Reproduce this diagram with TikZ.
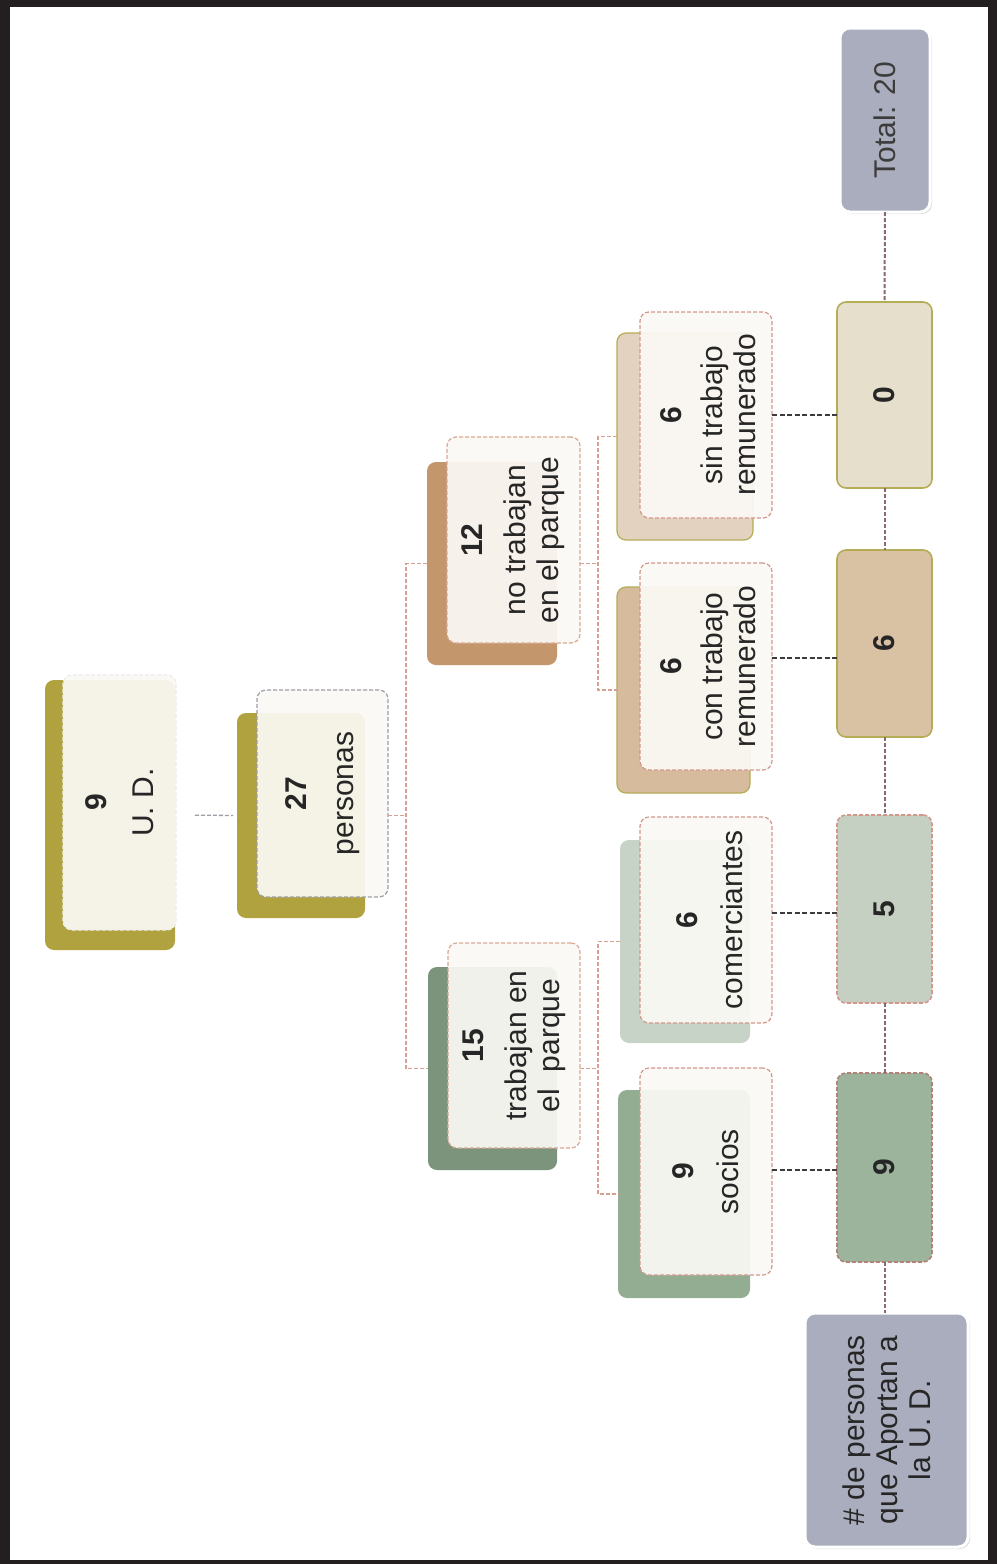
\documentclass[tikz,border=0pt]{standalone}
\usepackage{fontspec}
\setmainfont{Liberation Sans}
\usetikzlibrary{shadows}
\definecolor{cFrame}{HTML}{231F20}
\definecolor{cOliveB}{HTML}{B0A23E}
\definecolor{cBrownB}{HTML}{C4966C}
\definecolor{cDkGreenB}{HTML}{7B947B}
\definecolor{cTanLt}{HTML}{E4D2C0}
\definecolor{cTan}{HTML}{D6BC9C}
\definecolor{cGreenLt}{HTML}{C6D3C6}
\definecolor{cGreenMd}{HTML}{93AD93}
\definecolor{cResZero}{HTML}{E6DFCB}
\definecolor{cResSix}{HTML}{D9C2A3}
\definecolor{cResFive}{HTML}{C6D0C2}
\definecolor{cResNine}{HTML}{9CB39C}
\definecolor{cGrayBox}{HTML}{AAADBD}
\definecolor{cOlLine}{HTML}{B4AD56}
\definecolor{cDashPink}{HTML}{D3988C}
\definecolor{cDashOr}{HTML}{D8A893}
\definecolor{cDashGray}{HTML}{9E9EA6}
\definecolor{cConn}{HTML}{D8A090}
\definecolor{cChain}{HTML}{8A6B6B}
\definecolor{cTxt}{HTML}{262626}
\definecolor{cFront}{HTML}{FBF9F5}
\begin{document}
\begin{tikzpicture}[x=1pt,y=-1pt,
  backcard/.style={rounded corners=9pt, inner sep=0pt, outer sep=0pt},
  frontcard/.style={rounded corners=9pt, fill=cFront, fill opacity=0.92, draw opacity=1,
     draw=cDashPink, line width=1.2pt, dash pattern=on 4pt off 2pt,
     inner sep=0pt, outer sep=0pt},
  resbox/.style={rounded corners=9pt, inner sep=0pt, outer sep=0pt, line width=1.6pt,
     minimum width=95pt},
  graybox/.style={rounded corners=10pt, inner sep=0pt, outer sep=0pt, fill=cGrayBox,
     draw=white, line width=3pt,
     drop shadow={shadow xshift=2pt, shadow yshift=-2pt, opacity=0.25}},
  txt/.style={rotate=90, align=center, text=cTxt, inner sep=0pt,
     font=\fontsize{30}{33}\selectfont},
  numtxt/.style={rotate=90, text=cTxt, inner sep=0pt,
     font=\fontsize{30}{33}\selectfont\bfseries},
  treeconn/.style={draw=cConn, line width=1.3pt, dash pattern=on 4pt off 2pt},
  outconn/.style={draw=cTxt!90, line width=2.4pt, dash pattern=on 5pt off 2.5pt},
  chainconn/.style={draw=cChain, line width=2pt, dash pattern=on 4pt off 2pt}
]
\useasboundingbox (0,0) rectangle (997,1564);
% frame
\fill[cFrame] (0,0) rectangle (997,1564);
\fill[white] (10,7) rectangle (988,1560);

% ---------- level 1: 9 U. D.
\node[backcard, fill=cOliveB, minimum width=130pt, minimum height=270pt] (n1b) at (110,815) {};
\node[frontcard, draw=white!85!gray, fill=cFront, fill opacity=0.93,
      minimum width=113pt, minimum height=255pt] (n1) at (119.5,802.5) {};
\node[txt] (t1) at (n1.center) {\textbf{9}\\[14pt]U. D.};

% ---------- level 2: 27 personas
\node[backcard, fill=cOliveB, minimum width=128pt, minimum height=205pt] (n2b) at (301,815.5) {};
\node[frontcard, draw=cDashGray, minimum width=131pt, minimum height=207pt] (n2) at (322.5,793.5) {};
\node[txt] (t2) at (n2.center) {\textbf{27}\\[14pt]personas};

% ---------- level 3: 12 / 15
\node[backcard, fill=cBrownB, minimum width=130pt, minimum height=203pt] (n3b) at (492,563.5) {};
\node[frontcard, draw=cDashOr, minimum width=133pt, minimum height=206pt] (n3) at (513.5,540) {};
\node[txt] (t3) at (n3.center) {\textbf{12}\\[10pt]no trabajan\\en el parque};

\node[backcard, fill=cDkGreenB, minimum width=129pt, minimum height=203pt] (n4b) at (492.5,1068.5) {};
\node[frontcard, draw=cDashOr, minimum width=132pt, minimum height=205pt] (n4) at (514,1045.5) {};
\node[txt] (t4) at (n4.center) {\textbf{15}\\[10pt]trabajan en\\el~~parque};

% ---------- level 4
\node[backcard, fill=cTanLt, draw=cOlLine, line width=1.2pt, minimum width=136pt, minimum height=207pt] (sinb) at (685,436.5) {};
\node[frontcard, minimum width=132pt, minimum height=206pt] (sin) at (706,415) {};
\node[txt] (tsin) at (708,415) {\textbf{6}\\[8pt]sin trabajo\\remunerado};

\node[backcard, fill=cTan, draw=cOlLine, line width=1.2pt, minimum width=133pt, minimum height=206pt] (conb) at (683.5,690) {};
\node[frontcard, minimum width=132pt, minimum height=207pt] (con) at (706,666.5) {};
\node[txt] (tcon) at (708,666.5) {\textbf{6}\\[8pt]con trabajo\\remunerado};

\node[backcard, fill=cGreenLt, minimum width=130pt, minimum height=203pt] (comb) at (685,941.5) {};
\node[frontcard, minimum width=132pt, minimum height=206pt] (com) at (706,920) {};
\node[txt] (tcom) at (710,920) {\textbf{6}\\[12pt]comerciantes};

\node[backcard, fill=cGreenMd, minimum width=132pt, minimum height=208pt] (socb) at (684,1194) {};
\node[frontcard, minimum width=132pt, minimum height=207pt] (soc) at (706,1171.5) {};
\node[txt] (tsoc) at (706,1171.5) {\textbf{9}\\[12pt]socios};

% ---------- results column
\node[graybox, minimum width=90pt, minimum height=184pt] (tot) at (885,120) {};
\node[txt, text=cTxt!90] (ttot) at (tot.center) {Total: 20};

\node[resbox, fill=cResZero, draw=cOlLine, minimum height=186pt] (r0) at (884.5,395) {};
\node[numtxt] (tr0) at (r0.center) {0};
\node[resbox, fill=cResSix, draw=cOlLine, minimum height=187pt] (r6) at (884.5,643.5) {};
\node[numtxt] (tr6) at (r6.center) {6};
\node[resbox, fill=cResFive, draw=cDashPink, dash pattern=on 4pt off 2pt, minimum height=188pt] (r5) at (884.5,909) {};
\node[numtxt] (tr5) at (r5.center) {5};
\node[resbox, fill=cResNine, draw=cDashPink!85!black, dash pattern=on 4pt off 2pt, minimum height=189pt] (r9) at (884.5,1167.5) {};
\node[numtxt] (tr9) at (r9.center) {9};

\node[graybox, minimum width=163pt, minimum height=234pt] (lab) at (886.5,1430) {};
\node[txt] (tlab) at (lab.center) {\# de personas\\que Aportan a\\la U. D.};

% ---------- tree connectors
\draw[treeconn, draw=cDashGray, shorten <=20pt, shorten >=4pt] (n1b.east) -- (n2b.west);
\coordinate (j1) at (406,815.5);
\draw[treeconn] (n2.east |- j1) -- (j1);
\draw[treeconn] (n3b.west) -| (j1 |- n4b.west) -- (n4b.west);

\coordinate (j2) at (598,563.5);
\draw[treeconn] (n3.east |- j2) -- (j2);
\draw[treeconn] (sinb.west) -| (j2 |- conb.west) -- (conb.west);

\coordinate (j3) at (598,1068.5);
\draw[treeconn] (n4.east |- j3) -- (j3);
\draw[treeconn] (comb.west) -| (j3 |- socb.west) -- (socb.west);

% ---------- output connectors
\draw[outconn] (sin.east |- 0,415) -- (r0.west |- 0,415);
\draw[outconn] (con.east |- 0,658) -- (r6.west |- 0,658);
\draw[outconn] (com.east |- 0,913) -- (r5.west |- 0,913);
\draw[outconn] (soc.east |- 0,1170) -- (r9.west |- 0,1170);

% ---------- chain
\draw[chainconn] (tot.south) -- (r0.north);
\draw[chainconn] (r0.south) -- (r6.north);
\draw[chainconn] (r6.south) -- (r5.north);
\draw[chainconn] (r5.south) -- (r9.north);
\draw[chainconn] (r9.south) -- (r9.south |- lab.north);
\end{tikzpicture}
\end{document}
